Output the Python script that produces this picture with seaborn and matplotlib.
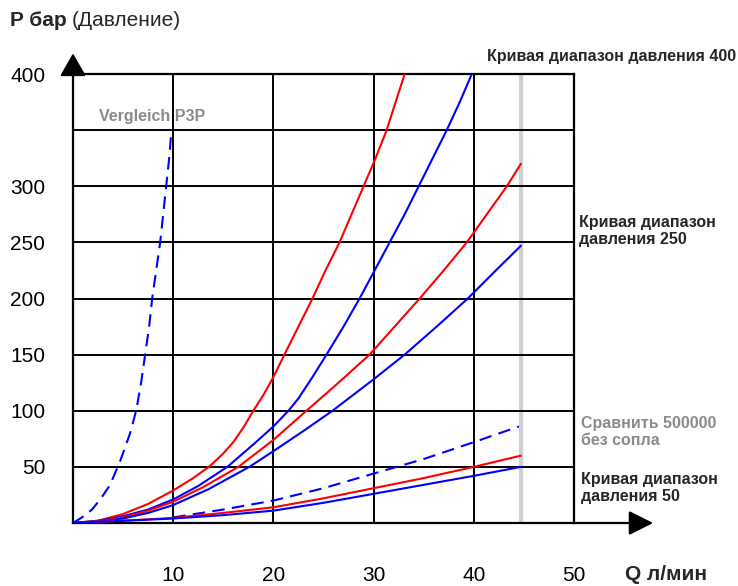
import matplotlib.pyplot as plt
import seaborn as sns
import pandas as pd

# Courbes : Q (л/мин) -> P (бар)
q_p3p = [0, 0.9, 1.9, 2.8, 3.7, 4.7, 5.7, 6.3, 6.8, 7.2, 7.6, 7.9, 8.3, 8.7, 9.0, 9.3, 9.6, 9.8]
p_p3p = [0, 5, 12, 22, 34, 55, 80, 100, 125, 150, 175, 200, 225, 250, 275, 300, 325, 347]

q_rouge_400 = [0, 2.5, 5, 7.5, 10, 12, 13.7, 15, 16, 17, 18, 19, 20, 21.1, 22.5, 23.9, 25.2,
               26.6, 27.8, 29, 30.2, 31.3, 32.2, 33.1]
p_rouge_400 = [0, 2, 8, 17, 29, 40, 51, 62, 72, 85, 100, 114, 130, 150, 175, 200, 225,
               250, 275, 300, 325, 350, 375, 400]

q_bleu_400 = [0, 2.5, 5, 7.5, 10, 12.5, 15.4, 18, 20, 21.5, 22.5, 23.9, 25.3, 27, 28.6, 30.1,
              31.6, 33.1, 34.5, 35.9, 37.3, 38.6, 39.8]
p_bleu_400 = [0, 2, 6, 12, 21, 33, 50, 70, 86, 100, 111, 130, 150, 175, 200, 225,
              250, 275, 300, 325, 350, 375, 400]

q_rouge_250 = [0, 2.5, 5, 7.5, 10, 13, 16.5, 20, 23.3, 26.5, 29.6, 32.1, 34.6, 37, 39.3,
               41.3, 43.3, 44.7]
p_rouge_250 = [0, 1.5, 5, 11, 19, 32, 50, 74, 100, 125, 150, 175, 200, 225, 250,
               275, 300, 320]

q_bleu_250 = [0, 2.5, 5, 7.5, 10, 13.5, 17.6, 20, 23, 25.9, 30, 33.1, 36.3, 39.4, 42.2, 44.7]
p_bleu_250 = [0, 1, 4, 9, 16, 30, 50, 64, 82, 100, 128, 150, 175, 200, 225, 247]

q_bleu_500000 = [10, 15, 20, 25, 30, 35, 40, 44.5]
p_bleu_500000 = [5, 12, 20, 31, 44, 57, 72, 86]

q_rouge_50 = [0, 5, 10, 15, 20, 25, 30, 35, 40, 44.7]
p_rouge_50 = [0, 2, 4.5, 9, 14, 22, 31, 40, 50, 60]

q_bleu_50 = [0, 5, 10, 15, 20, 25, 30, 35, 40, 44.7]
p_bleu_50 = [0, 2, 4, 7, 11, 18, 26, 34, 42, 50]

x_ticks = [10, 20, 30, 40, 50]
y_ticks = [50, 100, 150, 200, 250, 300, 350, 400]
y_labels = ["50", "100", "150", "200", "250", "300", "", "400"]
q_limite = 44.7

tirets = (0, (6, 3.5))
courbes = [
    (q_p3p, p_p3p, "#0000ff", tirets),
    (q_rouge_400, p_rouge_400, "#ff0000", "-"),
    (q_bleu_400, p_bleu_400, "#0000ff", "-"),
    (q_rouge_250, p_rouge_250, "#ff0000", "-"),
    (q_bleu_250, p_bleu_250, "#0000ff", "-"),
    (q_bleu_500000, p_bleu_500000, "#0000ff", tirets),
    (q_rouge_50, p_rouge_50, "#ff0000", "-"),
    (q_bleu_50, p_bleu_50, "#0000ff", "-"),
]

sns.set_style("white")
plt.rcParams["font.family"] = ["Liberation Sans", "DejaVu Sans"]

W, H = 738, 586
fig = plt.figure(figsize=(W / 100, H / 100), dpi=100)
ax = fig.add_axes([73 / W, (H - 523) / H, (574 - 73) / W, (523 - 74) / H])

# limite grise
ax.axvline(q_limite, color="#d0d0d0", lw=3, zorder=1)

for q, p, couleur, style in courbes:
    df = pd.DataFrame({"Q": q, "P": p})
    sns.lineplot(data=df, x="Q", y="P", ax=ax, sort=False, estimator=None,
                 color=couleur, linestyle=style, lw=1.5, zorder=3)

ax.set_xlim(0, 50)
ax.set_ylim(0, 400)
ax.set_xticks(x_ticks)
ax.set_xticklabels([str(t) for t in x_ticks])
ax.set_yticks(y_ticks)
ax.set_yticklabels(y_labels)
ax.tick_params(axis="both", length=0, labelsize=15, colors="black")
ax.tick_params(axis="x", pad=31)
ax.tick_params(axis="y", pad=20)
ax.grid(True, color="black", lw=1.4, zorder=2)
ax.set_axisbelow(False)
for s in ax.spines.values():
    s.set_color("black")
    s.set_linewidth(1.6)
ax.set_xlabel("")
ax.set_ylabel("")

# fleches des axes
ax.annotate("", xy=(1.158, 0), xytext=(1.0, 0), xycoords="axes fraction",
            arrowprops=dict(arrowstyle="-|>,head_length=1.5,head_width=0.75",
                            mutation_scale=10, color="black", lw=1.6,
                            shrinkA=0, shrinkB=0), annotation_clip=False)
ax.annotate("", xy=(0, 1.046), xytext=(0, 0.995), xycoords="axes fraction",
            arrowprops=dict(arrowstyle="-|>,head_length=1.4,head_width=0.8",
                            mutation_scale=10, color="black", lw=1.6,
                            shrinkA=0, shrinkB=0), annotation_clip=False)

# textes
fig.text(10 / W, 1 - 21 / H, "P бар", fontsize=15, fontweight="bold", va="center")
fig.text(72 / W, 1 - 21 / H, "(Давление)", fontsize=15, va="center")
fig.text(625 / W, 1 - 575 / H, "Q л/мин", fontsize=15, fontweight="bold", va="center")
fig.text(99 / W, 1 - 116 / H, "Vergleich P3P", fontsize=11.5, fontweight="bold",
         color="#8a8a8a", va="center")
fig.text(487 / W, 1 - 57 / H, "Кривая диапазон давления 400", fontsize=11.5,
         fontweight="bold", va="center")
fig.text(579 / W, 1 - 231 / H, "Кривая диапазон\nдавления 250", fontsize=11.5,
         fontweight="bold", va="center", linespacing=1.15)
fig.text(581 / W, 1 - 432 / H, "Сравнить 500000\nбез сопла", fontsize=11.5,
         fontweight="bold", color="#8a8a8a", va="center", linespacing=1.15)
fig.text(581 / W, 1 - 488 / H, "Кривая диапазон\nдавления 50", fontsize=11.5,
         fontweight="bold", va="center", linespacing=1.15)

fig.savefig("out.png", dpi=100)
